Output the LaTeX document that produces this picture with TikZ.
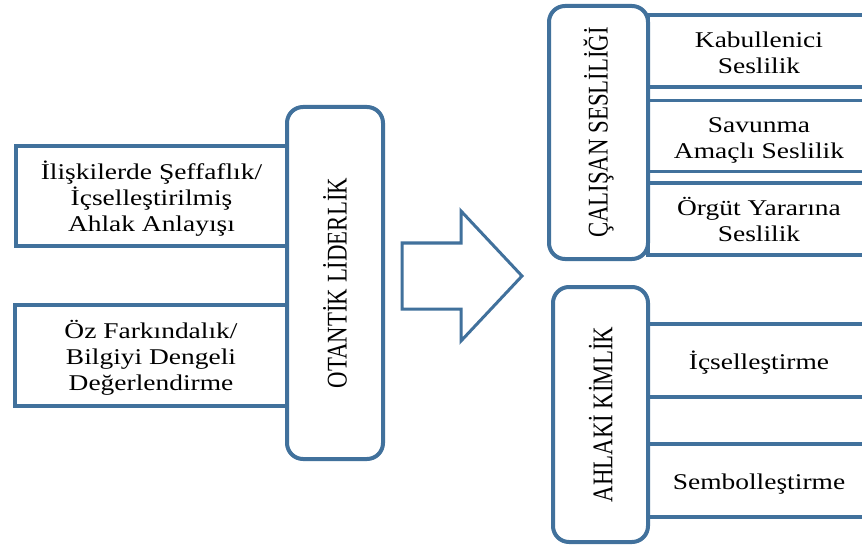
\documentclass[tikz,border=0pt]{standalone}
\usepackage{fontspec}
\setmainfont{Liberation Serif}
\definecolor{bl}{HTML}{41719C}
\newcommand{\vtext}[1]{\rotatebox{90}{\scalebox{1}[1.25]{\fontsize{22.8}{26}\selectfont #1}}}
\newcommand{\htext}[1]{\raisebox{-4pt}[\height][\depth]{\scalebox{1.22}[1]{\fontsize{22.5}{26}\selectfont
  \begin{tabular}{@{}c@{}}#1\end{tabular}}}}
\begin{document}
\begin{tikzpicture}[x=1pt,y=-1pt,
  sqbox/.style={draw=bl,line width=4pt,fill=white,align=center,inner sep=0pt},
  rowbox/.style={draw=bl,line width=3.5pt,fill=white,align=center,inner sep=0pt,
    minimum width=222pt},
  rbox/.style={draw=bl,line width=4pt,fill=white,rounded corners=16pt,inner sep=0pt},
  bigarrow/.style={draw=bl,line width=3pt,line join=miter}]
\useasboundingbox (0,0) rectangle (862,548);
\fill[white] (0,0) rectangle (862,548);

% left boxes
\node[sqbox,minimum width=271pt,minimum height=100pt] (l1) at (151.5,196)
  {\htext{İlişkilerde Şeffaflık/\\İçselleştirilmiş\\Ahlak Anlayışı}};
\node[sqbox,minimum width=272pt,minimum height=101pt] (l2) at (151,355.5)
  {\htext{Öz Farkındalık/\\Bilgiyi Dengeli\\Değerlendirme}};
\node[rbox,minimum width=96pt,minimum height=352pt] (ol) at (335,283)
  {\vtext{OTANTİK LİDERLİK}};

% arrow
\draw[bigarrow] (402,243) -- (461,243) -- (461,211) -- (522,276)
  -- (461,341) -- (461,309) -- (402,309) -- cycle;

% right top rows
\node[rowbox,minimum height=72pt] (k1) at (759,51) {\htext{Kabullenici\\Seslilik}};
\node[rowbox,minimum height=71pt] (k2) at (759,136) {\htext{Savunma\\Amaçlı Seslilik}};
\node[rowbox,minimum height=72pt] (k3) at (759,219) {\htext{Örgüt Yararına\\Seslilik}};
\node[rbox,minimum width=99pt,minimum height=253pt] (cs) at (598.5,132.5)
  {\vtext{ÇALIŞAN SESLİLİĞİ}};

% right bottom rows
\node[rowbox,minimum height=73pt] (a1) at (759,360.5) {\htext{İçselleştirme}};
\node[rowbox,minimum height=73pt] (a2) at (759,480.5) {\htext{Sembolleştirme}};
\node[rbox,minimum width=95pt,minimum height=255pt] (ak) at (600.5,414.5)
  {\vtext{AHLAKİ KİMLİK}};
\end{tikzpicture}
\end{document}
